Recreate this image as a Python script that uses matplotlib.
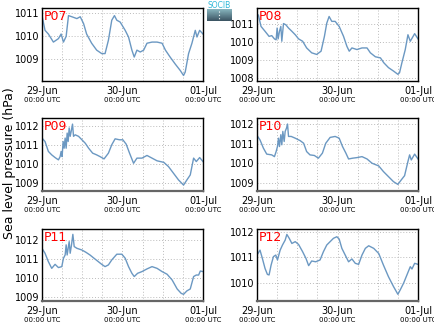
import numpy as np
import matplotlib
matplotlib.use("Agg")
from matplotlib import pyplot as plt
from matplotlib.colors import LinearSegmentedColormap

# hours since 29-Jun 00:00 UTC and sea level pressure (hPa) per station
h07 = [0, 0.9, 1.9, 3.4, 4.9, 5.7, 6.4, 7.2, 7.9, 8.9, 10.4, 11.4, 12.4, 13.3, 14.8, 16.3, 17.8, 18.8,
       19.8, 20.8, 21.6, 22.3, 23.3, 24.8, 25.8, 26.8, 27.5, 28.3, 29.3, 30.3, 31.3, 32.8, 34.3, 35.8,
       36.8, 38.2, 39.7, 41.2, 42.2, 42.7, 43.7, 44.7, 45.7, 46.2, 47.0, 48.0]
p07 = [1010.9, 1010.26, 1010.1, 1009.75, 1009.9, 1010.1, 1009.75, 1010.0, 1010.9, 1010.85, 1010.77,
       1010.85, 1010.55, 1010.1, 1009.7, 1009.4, 1009.25, 1009.25, 1009.83, 1010.7, 1010.9, 1010.7,
       1010.62, 1010.26, 1009.97, 1009.4, 1009.1, 1009.4, 1009.32, 1009.4, 1009.7, 1009.75, 1009.75,
       1009.7, 1009.4, 1009.1, 1008.8, 1008.52, 1008.3, 1008.45, 1009.25, 1009.7, 1010.26, 1009.97,
       1010.26, 1010.1]

h08 = [0, 0.4, 1.2, 2.4, 3.6, 4.4, 5.2, 5.7, 6.0, 6.3, 6.7, 7.1, 7.4, 7.9, 8.6, 9.4, 10.4, 11.4, 12.4,
       13.6, 14.8, 16.3, 17.8, 19.1, 20.1, 20.8, 21.5, 22.3, 23.3, 24.5, 25.8, 26.8, 27.5, 28.3, 29.8,
       31.3, 32.8, 33.8, 35.3, 36.8, 37.8, 39.2, 40.7, 42.0, 42.5, 43.2, 44.2, 45.0, 45.7, 47.0, 48.0]
p08 = [1011.39, 1011.48, 1010.84, 1010.57, 1010.29, 1010.33, 1010.15, 1010.1, 1010.75, 1010.15,
       1010.57, 1010.84, 1010.02, 1011.0, 1010.93, 1010.75, 1010.57, 1010.38, 1010.15, 1010.02,
       1009.65, 1009.38, 1009.29, 1009.47, 1010.29, 1011.02, 1011.39, 1011.12, 1011.12, 1010.84,
       1010.29, 1009.74, 1009.47, 1009.65, 1009.56, 1009.65, 1009.65, 1009.38, 1009.16, 1009.1,
       1008.83, 1008.56, 1008.37, 1008.19, 1008.28, 1008.83, 1009.56, 1010.38, 1010.02, 1010.44,
       1010.15]

h09 = [0, 0.9, 1.9, 2.9, 3.9, 4.9, 5.4, 5.7, 6.0, 6.3, 6.6, 6.9, 7.2, 7.5, 7.8, 8.1, 8.4, 8.7, 9.1, 9.4,
       9.9, 10.9, 11.9, 12.9, 13.9, 15.1, 16.3, 17.3, 18.5, 19.8, 20.8, 21.8, 23.1, 24.1, 25.1, 26.1,
       27.3, 28.3, 29.8, 31.3, 32.8, 34.3, 36.3, 37.7, 39.2, 40.7, 42.2, 43.2, 44.2, 45.2, 46.0, 47.0,
       48.0]
p09 = [1011.37, 1011.19, 1010.67, 1010.49, 1010.35, 1010.23, 1010.4, 1010.67, 1010.4, 1011.19,
       1010.84, 1011.37, 1010.84, 1011.63, 1011.19, 1011.9, 1011.46, 1011.72, 1012.1, 1011.46,
       1011.54, 1011.46, 1011.28, 1011.1, 1010.84, 1010.58, 1010.49, 1010.4, 1010.28, 1010.58,
       1011.02, 1011.33, 1011.28, 1011.28, 1011.05, 1010.58, 1010.05, 1010.32, 1010.32, 1010.46,
       1010.32, 1010.18, 1010.1, 1009.88, 1009.53, 1009.18, 1008.91, 1009.18, 1009.44, 1010.32,
       1010.14, 1010.35, 1010.14]

h10 = [0, 0.9, 1.9, 2.9, 4.4, 5.2, 5.7, 6.1, 6.4, 6.7, 7.1, 7.4, 7.7, 8.1, 8.4, 8.8, 9.1, 9.4, 10.2,
       11.4, 12.9, 13.9, 14.8, 15.8, 17.1, 18.3, 19.5, 20.5, 21.8, 23.3, 24.5, 25.5, 26.5, 27.3, 28.5,
       29.8, 31.3, 32.8, 34.3, 36.3, 37.7, 39.2, 40.7, 42.0, 43.0, 44.0, 45.0, 45.5, 46.0, 47.0, 48.0]
p10 = [1011.43, 1011.2, 1010.78, 1010.47, 1010.43, 1010.34, 1010.6, 1010.86, 1011.29, 1010.86,
       1011.47, 1010.95, 1011.64, 1011.12, 1011.64, 1011.81, 1012.02, 1011.38, 1011.38, 1011.29,
       1011.16, 1011.03, 1010.6, 1010.43, 1010.4, 1010.26, 1010.52, 1011.03, 1011.33, 1011.38,
       1011.29, 1010.86, 1010.52, 1010.22, 1010.26, 1010.29, 1010.34, 1010.22, 1010.0, 1009.86,
       1009.57, 1009.31, 1009.05, 1008.91, 1009.14, 1009.36, 1010.09, 1010.43, 1010.17, 1010.47,
       1010.22]

h11 = [0, 0.9, 1.9, 2.9, 3.9, 4.9, 5.9, 6.4, 6.9, 7.2, 7.5, 7.8, 8.1, 8.4, 8.8, 9.2, 9.6, 10.4, 11.9,
       13.1, 14.3, 15.5, 16.8, 17.8, 18.8, 19.8, 20.8, 22.3, 23.8, 24.8, 25.8, 26.8, 27.5, 28.5, 29.8,
       31.3, 32.8, 34.3, 35.8, 37.3, 38.8, 40.3, 41.5, 42.2, 43.2, 44.2, 45.2, 46.0, 46.7, 47.2, 48.0]
p11 = [1011.57, 1011.31, 1010.87, 1010.52, 1010.73, 1010.56, 1010.61, 1011.05, 1011.22, 1011.75,
       1011.22, 1011.57, 1011.92, 1011.31, 1011.75, 1012.3, 1011.66, 1011.57, 1011.48, 1011.36,
       1011.22, 1011.05, 1010.87, 1010.73, 1010.61, 1010.7, 1010.96, 1011.26, 1011.26, 1011.05,
       1010.61, 1010.26, 1010.09, 1010.26, 1010.35, 1010.49, 1010.61, 1010.52, 1010.35, 1010.21,
       1009.91, 1009.44, 1009.21, 1009.16, 1009.34, 1009.44, 1010.09, 1010.17, 1010.17, 1010.38,
       1010.35]

h12 = [0, 0.9, 1.6, 2.4, 3.1, 3.6, 4.2, 4.9, 5.6, 6.1, 6.9, 7.6, 8.4, 8.9, 9.6, 10.4, 11.4, 12.4, 13.6,
       14.6, 15.4, 16.3, 17.5, 18.8, 19.8, 20.8, 21.8, 22.8, 23.8, 24.5, 25.3, 26.3, 27.3, 28.3, 29.3,
       30.3, 31.3, 32.3, 33.3, 34.8, 36.3, 37.7, 39.2, 40.7, 42.0, 42.7, 43.7, 44.7, 45.7, 46.2, 47.0,
       48.0]
p12 = [1011.09, 1011.28, 1010.96, 1010.57, 1010.34, 1010.32, 1010.7, 1011.03, 1011.09, 1010.9,
       1011.28, 1011.48, 1011.67, 1011.89, 1011.74, 1011.54, 1011.61, 1011.5, 1011.22, 1010.96,
       1010.68, 1010.86, 1010.83, 1010.9, 1011.22, 1011.48, 1011.61, 1011.74, 1011.8, 1011.71,
       1011.35, 1011.09, 1010.83, 1010.94, 1010.77, 1010.73, 1011.09, 1011.35, 1011.45, 1011.35,
       1011.15, 1010.7, 1010.25, 1009.87, 1009.57, 1009.74, 1010.0, 1010.32, 1010.64, 1010.55,
       1010.77, 1010.73]

stations = ["P07", "P08", "P09", "P10", "P11", "P12"]
hours = [h07, h08, h09, h10, h11, h12]
values = [p07, p08, p09, p10, p11, p12]
ylims = [(1008.06, 1011.23), (1007.82, 1011.86), (1008.6, 1012.42),
         (1008.57, 1012.33), (1008.81, 1012.58), (1009.31, 1012.1)]
day_labels = ["29-Jun", "30-Jun", "01-Jul"]
day_hours = [0, 24, 48]

fig = plt.figure(figsize=(4.35, 3.27), dpi=100)
W, H = 435.0, 327.0
lefts = [42, 257]
tops = [8, 118, 229]
bottoms = [81, 191, 301]

for i in range(6):
    r, c = i // 2, i % 2
    ax = fig.add_axes([lefts[c] / W, 1 - bottoms[r] / H, 161 / W, (bottoms[r] - tops[r]) / H])
    ax.plot(hours[i], values[i], color="#6b98c2", lw=1.0)
    ax.set_xlim(0, 48)
    ax.set_ylim(*ylims[i])
    ax.set_xticks(np.arange(0, 49, 6))
    ax.set_xticklabels([])
    ax.set_yticks(np.arange(np.ceil(ylims[i][0]), ylims[i][1], 1))
    ax.set_yticklabels([str(int(v)) for v in ax.get_yticks()], fontsize=7)
    ax.tick_params(length=0, pad=2)
    ax.grid(True, color="#bbbbbb", linestyle=(0, (1, 2)), lw=0.7)
    for s in ax.spines.values():
        s.set_linewidth(1.0)
    if r > 0:
        ax.spines["bottom"].set_color("#666666")
        ax.spines["bottom"].set_linewidth(1.6)
    tr = ax.get_xaxis_transform()
    for d, lab in zip(day_hours, day_labels):
        ax.text(d, -0.07, lab, transform=tr, ha="center", va="top", fontsize=7)
        ax.text(d, -0.22, "00:00 UTC", transform=tr, ha="center", va="top", fontsize=5)
    ax.text(0.01, 0.97, stations[i], transform=ax.transAxes, ha="left", va="top",
            color="red", fontsize=9)

fig.text(10 / W, 0.5, "Sea level pressure (hPa)", rotation=90, ha="center", va="center", fontsize=9)

# small logo
lax = fig.add_axes([207 / W, 1 - 21 / H, 25 / W, 12 / H])
logo_cmap = LinearSegmentedColormap.from_list("logo", ["#3c5563", "#86b3bd"])
grad = np.linspace(1, 0, 20).reshape(-1, 1)
lax.imshow(grad, aspect="auto", cmap=logo_cmap, vmin=0, vmax=1)
lax.plot([0, 0], [2, 18], color="white", lw=0.8, linestyle=(0, (1, 2)))
lax.set_xlim(-0.5, 0.5)
lax.axis("off")
fig.text(219 / W, 1 - 5 / H, "SOCIB", ha="center", va="center", fontsize=5.5, color="#30b8d8")

fig.savefig("out.png", dpi=100)
